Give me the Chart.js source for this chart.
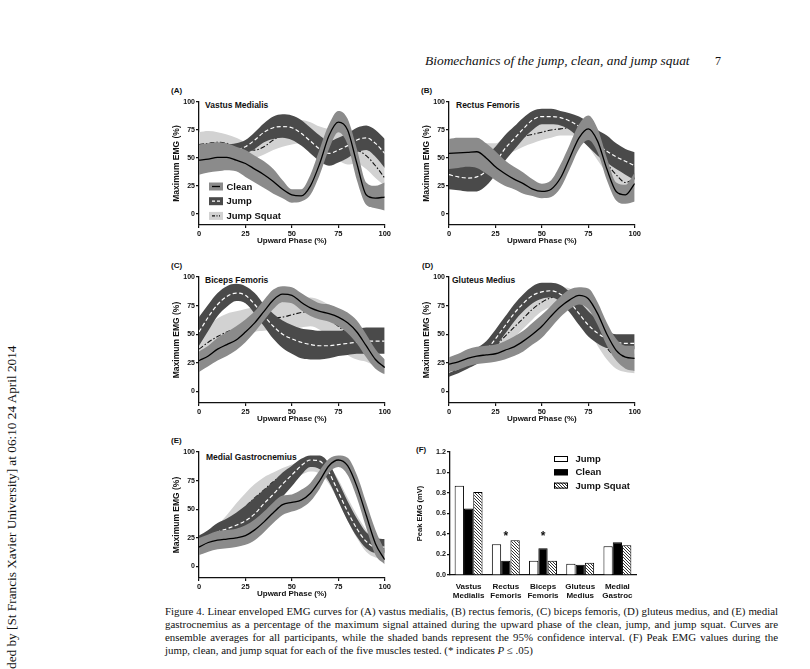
<!DOCTYPE html>
<html>
<head>
<meta charset="utf-8">
<script src="https://cdn.jsdelivr.net/npm/chart.js@4.4.1/dist/chart.umd.min.js"></script>
<style>
  body { margin:0; width:810px; height:669px; overflow:hidden; background:#fff; position:relative; font-family:'Liberation Sans', Arial, sans-serif; color:#111; }
  canvas { position:absolute; }
  .t { position:absolute; white-space:nowrap; font-weight:bold; line-height:1; color:#111; }
  .serif { position:absolute; white-space:nowrap; font-family:'Liberation Serif','Times New Roman',serif; color:#111; }
  .cap { position:absolute; left:165px; width:613px; height:13px; line-height:13px; font-family:'Liberation Serif','Times New Roman',serif; font-size:10.5px; white-space:nowrap; color:#111; }
</style>
</head>
<body>

<div class="serif" id="hdr" style="left:425px;top:54px;font-size:12px;line-height:14px;font-style:italic">Biomechanics of the jump, clean, and jump squat</div>
<div class="serif" style="left:715px;top:54px;font-size:12px;line-height:14px">7</div>

<div class="serif" id="side" style="left:0;top:0;font-size:12px;line-height:14px;transform-origin:0 0">ded by [St Francis Xavier University] at 06:10 24 April 2014</div>

<div class="t" style="left:171px;top:87px;font-size:8px">(A)</div>
<div class="t" style="left:421px;top:87px;font-size:8px">(B)</div>
<div class="t" style="left:171px;top:262px;font-size:8px">(C)</div>
<div class="t" style="left:422px;top:262px;font-size:8px">(D)</div>
<div class="t" style="left:171px;top:437px;font-size:8px">(E)</div>
<div class="t" style="left:416px;top:446px;font-size:8px">(F)</div>

<div class="t" style="left:205px;top:101px;font-size:8.5px">Vastus Medialis</div>
<div class="t" style="left:456px;top:101px;font-size:8.5px">Rectus Femoris</div>
<div class="t" style="left:205px;top:276px;font-size:8.5px">Biceps Femoris</div>
<div class="t" style="left:452px;top:276px;font-size:8.5px">Gluteus Medius</div>
<div class="t" style="left:206px;top:453px;font-size:8.5px">Medial Gastrocnemius</div>

<canvas id="cA"></canvas>
<canvas id="cB"></canvas>
<canvas id="cC"></canvas>
<canvas id="cD"></canvas>
<canvas id="cE"></canvas>
<canvas id="cF"></canvas>

<div class="cap" style="top:604.5px"><span>Figure 4. Linear enveloped EMG curves for (A) vastus medialis, (B) rectus femoris, (C) biceps femoris, (D) gluteus medius, and (E) medial</span></div>
<div class="cap" style="top:617.8px"><span>gastrocnemius as a percentage of the maximum signal attained during the upward phase of the clean, jump, and jump squat. Curves are</span></div>
<div class="cap" style="top:631.2px"><span>ensemble averages for all participants, while the shaded bands represent the 95% confidence interval. (F) Peak EMG values during the</span></div>
<div class="cap" style="top:644.4px"><span>jump, clean, and jump squat for each of the five muscles tested. (* indicates <i>P</i> ≤ .05)</span></div>

<script>
// Upward phase (%) sample points
const phase = [0,5,10,15,20,25,30,35,40,45,50,55,60,65,70,75,80,85,90,95,100];
const yTicks = [0,25,50,75,100];

// (A) vastus medialis
const vmClean   = [48,49,50.5,50.5,48,45,40,35,29,22,17,16,25,45,70,82,75,45,17,14,15];
const vmCleanHi = [62,63,64,63,60,57,52,47,40,30,22,22,35,58,80,92,85,58,28,25,28];
const vmCleanLo = [35,37,38,39,38,33,28,23,18,14,10,11,17,35,58,73,62,30,8,5,3];
const vmJump    = [55,55,55,56,57.5,60,66,73,77,78,77,72,65,58,54,57,61,66,68,63,54];
const vmJumpHi  = [60,60,60,62,63,66,73,81,87,89,88,84,77,70,65,68,72,77,79,75,67];
const vmJumpLo  = [48,48,48,50,52,54,58,64,67,68,66,61,54,47,43,46,50,55,57,51,41];
const vmJS      = [62,63,64,63,60,58,57,60,66,70,72,73,71,66,60,62,58,57,52,43,32];
const vmJSHi    = [73,74,73,71,68,64,62,66,74,80,83,84,82,78,76,76,70,68,63,55,45];
const vmJSLo    = [50,52,53,52,50,49,50,53,57,60,62,63,60,52,44,47,44,45,40,32,25];

// (B) rectus femoris
const rfClean   = [54,54.5,55,55.5,50,42,36,31,27,22,20,22,32,50,68,76,65,40,20,17,27];
const rfCleanHi = [67,68,68,68,63,56,48,42,37,31,27,30,44,62,80,88,76,50,28,26,37];
const rfCleanLo = [40,41,42,41,36,30,25,22,18,16,14,15,23,40,58,66,55,30,12,9,11];
const rfJump    = [35,33,32,33,38,46,58,67,76,84,87,87,86,83,78,70,62,56,51,47,43];
const rfJumpHi  = [47,45,44,45,52,60,70,78,86,92,94,94,92,90,87,82,75,70,63,58,55];
const rfJumpLo  = [22,21,20,20,25,35,47,57,67,75,80,80,79,75,68,60,52,46,40,35,30];
const rfJS      = [50,51,52,53,52,53,58,64,69,71,73,75,76,77,75,68,58,45,35,28,32];
const rfJSHi    = [60,62,63,63,63,63,68,73,78,80,82,84,85,86,85,80,70,58,46,38,42];
const rfJSLo    = [42,43,44,45,46,47,52,56,60,63,66,68,70,70,68,60,48,36,25,20,22];

// (C) biceps femoris
const bfClean   = [27,31,37,41,45,52,60,70,80,85,84,78,73,70,68,65,60,52,40,28,21];
const bfCleanHi = [35,40,47,52,57,63,70,80,89,92,91,86,81,77,76,73,69,62,50,37,28];
const bfCleanLo = [17,22,27,31,36,43,52,62,72,78,77,71,66,63,61,57,51,42,30,20,15];
const bfJump    = [52,65,76,83,86,84,76,66,57,50,46,43,41,40,40,41,42,43,44,44,44];
const bfJumpHi  = [65,76,86,92,94,92,86,76,68,62,58,55,54,53,53,53,54,55,56,56,56];
const bfJumpLo  = [40,53,66,74,79,77,68,57,46,38,33,29,28,28,29,31,32,33,33,33,33];
const bfJS      = [37,43,48,52,55,58,61,63,64,65,67,69,70,68,63,57,50,42,35,27,21];
const bfJSHi    = [50,58,64,68,70,72,74,76,77,78,80,81,82,80,76,72,65,56,45,35,28];
const bfJSLo    = [28,33,38,42,45,48,52,53,54,55,55,56,57,54,48,40,32,28,26,22,16];

// (D) gluteus medius
const gmClean   = [24,26,29,31,32,33,36,39,44,50,57,66,74,80,84,81,68,50,36,30,29];
const gmCleanHi = [30,33,37,39,40,41,44,48,53,60,67,75,83,89,91,90,78,60,46,40,40];
const gmCleanLo = [17,19,22,24,25,26,28,31,35,41,47,56,65,72,76,72,58,40,27,20,18];
const gmJump    = [17,20,24,30,36,46,57,68,77,84,87,88,85,78,68,58,51,46,43,42,42];
const gmJumpHi  = [22,26,32,38,44,54,65,76,85,92,95,95,93,87,79,70,62,53,50,50,50];
const gmJumpLo  = [13,16,20,24,30,39,50,61,70,77,81,82,78,69,58,48,42,38,37,37,37];
const gmJS      = [20,23,27,30,34,40,48,56,64,72,78,82,84,82,75,64,50,38,30,26,25];
const gmJSHi    = [28,30,34,37,42,49,57,66,74,82,87,90,91,90,85,76,62,50,40,35,33];
const gmJSLo    = [14,17,21,24,28,33,40,47,55,63,70,74,76,74,66,55,40,28,20,17,16];

// (E) medial gastrocnemius
const mgClean   = [17,21,23,24,25,27,32,39,47,54,56,58,64,75,88,93,88,70,45,20,6];
const mgCleanHi = [25,28,31,32,33,36,41,48,56,62,63,67,73,84,94,97,95,80,56,32,14];
const mgCleanLo = [10,13,15,16,17,19,23,30,38,45,48,51,57,68,82,87,80,60,34,10,2];
const mgJump    = [22,26,30,33,36,40,46,55,63,72,80,88,93,92,82,65,48,33,22,17,17];
const mgJumpHi  = [27,32,38,42,47,53,60,67,74,82,88,94,97,97,90,74,57,42,30,25,24];
const mgJumpLo  = [17,20,23,25,27,30,35,43,52,61,70,80,87,85,74,57,40,26,16,12,12];
const mgJS      = [18,22,27,33,42,52,60,67,74,80,84,88,90,88,80,67,50,35,22,14,13];
const mgJSHi    = [24,29,36,45,55,64,72,78,82,86,89,92,94,94,88,76,60,45,32,22,20];
const mgJSLo    = [10,14,18,24,32,42,51,59,66,72,76,80,83,81,72,57,40,25,13,8,7];

// (F) peak EMG (mV)
const muscles    = [['Vastus','Medialis'],['Rectus','Femoris'],['Biceps','Femoris'],['Gluteus','Medius'],['Medial','Gastroc']];
const peakJump   = [0.87,0.30,0.14,0.11,0.28];
const peakClean  = [0.65,0.14,0.26,0.10,0.32];
const peakJS     = [0.81,0.34,0.14,0.12,0.29];
const starred    = [1,2];
const starLevel  = 0.41;

Chart.defaults.font.family = "'Liberation Sans', Arial, sans-serif";
Chart.defaults.color = '#111';

const INK = '#111';
const GRAY = { clean:'#8b8b8b', jump:'#4a4a4a', js:'#d2d2d2' };
const pts = arr => arr.map((v, i) => ({ x: phase[i], y: v }));

// legend boxes drawn inside the plot
const swatchLegend = {
  id: 'swatchLegend',
  afterDraw(chart, args, o) {
    if (!o.items) return;
    const { ctx, chartArea: a } = chart;
    ctx.save();
    o.items.forEach((it, i) => {
      const x = a.left + o.x, y = a.top + o.y + i * o.gap;
      ctx.fillStyle = it.fill;
      ctx.fillRect(x, y, o.w, o.h);
      if (it.border) {
        ctx.strokeStyle = '#000'; ctx.lineWidth = 1;
        ctx.strokeRect(x + 0.5, y + 0.5, o.w - 1, o.h - 1);
      }
      if (it.line) {
        ctx.strokeStyle = it.line; ctx.lineWidth = 1.3;
        ctx.setLineDash(it.dash || []);
        ctx.beginPath(); ctx.moveTo(x + 3, y + o.h / 2); ctx.lineTo(x + o.w - 3, y + o.h / 2); ctx.stroke();
        ctx.setLineDash([]);
      }
      ctx.fillStyle = INK; ctx.font = o.font; ctx.textBaseline = 'middle';
      ctx.fillText(it.text, x + o.w + o.textGap, y + o.h / 2 + 0.5);
    });
    ctx.restore();
  }
};

// significance stars above the bar groups
const stars = {
  id: 'stars',
  afterDatasetsDraw(chart, args, o) {
    if (!o.cats) return;
    const { ctx, scales: { x, y } } = chart;
    ctx.save();
    ctx.fillStyle = INK; ctx.font = 'bold ' + o.size + 'px "Liberation Sans", Arial';
    ctx.textAlign = 'center'; ctx.textBaseline = 'alphabetic';
    o.cats.forEach(c => ctx.fillText('*', x.getPixelForValue(c), y.getPixelForValue(o.level) + 0.6 * o.size));
    ctx.restore();
  }
};

function place(cv, plot, padL, padT, padR, padB) {
  cv.width = plot.r - plot.l + padL + padR;
  cv.height = plot.b - plot.t + padT + padB;
  cv.style.left = (plot.l - padL) + 'px';
  cv.style.top = (plot.t - padT) + 'px';
}

function linePanel(id, plot, s, legendOn) {
  const cv = document.getElementById(id);
  place(cv, plot, 32, 6, 6, 24);
  const band = (data, color, fill) => ({
    data: pts(data), fill: fill ? '+1' : false, backgroundColor: color,
    borderWidth: 0, pointRadius: 0
  });
  // each series keeps its line with its band; first dataset ends up on top
  const datasets = [
    { data: pts(s.clean), borderColor: '#000', borderWidth: 1.3, pointRadius: 0, fill: false },
    band(s.cleanHi, GRAY.clean, true), band(s.cleanLo, GRAY.clean, false),
    { data: pts(s.jump), borderColor: '#fff', borderWidth: 1.2, borderDash: [4, 2.5], pointRadius: 0, fill: false },
    band(s.jumpHi, GRAY.jump, true), band(s.jumpLo, GRAY.jump, false),
    { data: pts(s.js), borderColor: '#111', borderWidth: 1.1, borderDash: [5, 2, 1.5, 2], pointRadius: 0, fill: false },
    band(s.jsHi, GRAY.js, true), band(s.jsLo, GRAY.js, false)
  ];
  const legend = legendOn ? {
    x: 10, y: 80.5, w: 14, h: 8, gap: 14.7, textGap: 3.5, font: 'bold 9.5px "Liberation Sans", Arial',
    items: [
      { text: 'Clean', fill: GRAY.clean, line: '#000' },
      { text: 'Jump', fill: GRAY.jump, line: '#fff', dash: [3, 2] },
      { text: 'Jump Squat', fill: GRAY.js, line: '#111', dash: [3, 1.5, 1, 1.5] }
    ]
  } : {};
  new Chart(cv, {
    type: 'line',
    data: { datasets },
    plugins: [swatchLegend],
    options: {
      responsive: false, animation: false, events: [],
      layout: { padding: { left: 5, top: 6, right: 6, bottom: 3 } },
      elements: { line: { cubicInterpolationMode: 'monotone' } },
      plugins: { legend: { display: false }, tooltip: { enabled: false }, swatchLegend: legend },
      scales: {
        x: {
          type: 'linear', min: 0, max: 100,
          ticks: { stepSize: 25, padding: 1, color: INK, font: { size: 7.5, weight: 'bold' } },
          grid: { drawOnChartArea: false, tickLength: 3, color: INK, lineWidth: 1.2 },
          border: { color: INK, width: 1.3 },
          title: { display: true, text: 'Upward Phase (%)', padding: 0, color: INK, font: { size: 8, weight: 'bold' } },
          afterFit: sc => { sc.height = 21; }
        },
        y: {
          min: -10, max: 100,
          afterBuildTicks: sc => { sc.ticks = yTicks.map(v => ({ value: v })); },
          ticks: { padding: 1, color: INK, font: { size: 7, weight: 'bold' } },
          grid: { drawOnChartArea: false, tickLength: 3, color: INK, lineWidth: 1.2 },
          border: { color: INK, width: 1.3 },
          title: { display: true, text: 'Maximum EMG (%)', padding: 0, color: INK, font: { size: 8.5, weight: 'bold' } },
          afterFit: sc => { sc.width = 27; }
        }
      }
    }
  });
}

linePanel('cA', { l: 199, r: 386, t: 102, b: 225 }, {
  clean: vmClean, cleanHi: vmCleanHi, cleanLo: vmCleanLo,
  jump: vmJump, jumpHi: vmJumpHi, jumpLo: vmJumpLo,
  js: vmJS, jsHi: vmJSHi, jsLo: vmJSLo }, true);
linePanel('cB', { l: 449, r: 636, t: 102, b: 225 }, {
  clean: rfClean, cleanHi: rfCleanHi, cleanLo: rfCleanLo,
  jump: rfJump, jumpHi: rfJumpHi, jumpLo: rfJumpLo,
  js: rfJS, jsHi: rfJSHi, jsLo: rfJSLo });
linePanel('cC', { l: 199, r: 386, t: 277, b: 403 }, {
  clean: bfClean, cleanHi: bfCleanHi, cleanLo: bfCleanLo,
  jump: bfJump, jumpHi: bfJumpHi, jumpLo: bfJumpLo,
  js: bfJS, jsHi: bfJSHi, jsLo: bfJSLo });
linePanel('cD', { l: 449, r: 636, t: 277, b: 403 }, {
  clean: gmClean, cleanHi: gmCleanHi, cleanLo: gmCleanLo,
  jump: gmJump, jumpHi: gmJumpHi, jumpLo: gmJumpLo,
  js: gmJS, jsHi: gmJSHi, jsLo: gmJSLo });
linePanel('cE', { l: 199, r: 386, t: 452, b: 578 }, {
  clean: mgClean, cleanHi: mgCleanHi, cleanLo: mgCleanLo,
  jump: mgJump, jumpHi: mgJumpHi, jumpLo: mgJumpLo,
  js: mgJS, jsHi: mgJSHi, jsLo: mgJSLo });

// hatched fill for jump squat bars
function hatch() {
  const c = document.createElement('canvas');
  c.width = 3; c.height = 3;
  const g = c.getContext('2d');
  g.fillStyle = '#fff'; g.fillRect(0, 0, 3, 3);
  g.fillStyle = '#333';
  g.fillRect(0, 0, 1, 1); g.fillRect(1, 1, 1, 1); g.fillRect(2, 2, 1, 1);
  return g.createPattern(c, 'repeat');
}

const cF = document.getElementById('cF');
place(cF, { l: 450, r: 636, t: 452, b: 575 }, 40, 6, 6, 28);
new Chart(cF, {
  type: 'bar',
  data: {
    labels: muscles,
    datasets: [
      { label: 'Jump', data: peakJump, backgroundColor: '#fff', borderColor: '#000', borderWidth: 1 },
      { label: 'Clean', data: peakClean, backgroundColor: '#000', borderColor: '#000', borderWidth: 1 },
      { label: 'Jump Squat', data: peakJS, backgroundColor: hatch(), borderColor: '#000', borderWidth: 1 }
    ]
  },
  plugins: [swatchLegend, stars],
  options: {
    responsive: false, animation: false, events: [],
    layout: { padding: { left: 5.5, top: 6, right: 6, bottom: 2 } },
    datasets: { bar: { categoryPercentage: 0.75, barPercentage: 1 } },
    plugins: {
      legend: { display: false }, tooltip: { enabled: false },
      stars: { cats: starred, level: starLevel, size: 12 },
      swatchLegend: {
        x: 104, y: 4, w: 14, h: 6, gap: 13.3, textGap: 7.5, font: 'bold 9.5px "Liberation Sans", Arial',
        items: [
          { text: 'Jump', fill: '#fff', border: true },
          { text: 'Clean', fill: '#000', border: true },
          { text: 'Jump Squat', fill: hatch(), border: true }
        ]
      }
    },
    scales: {
      x: {
        ticks: { padding: 8, maxRotation: 0, minRotation: 0, autoSkip: false, color: INK, font: { size: 8, weight: 'bold', lineHeight: 1.05 } },
        grid: { display: false, drawTicks: false },
        border: { color: INK, width: 1.3 },
        afterFit: sc => { sc.height = 26; }
      },
      y: {
        min: 0, max: 1.2,
        ticks: { stepSize: 0.2, padding: 1, color: INK, font: { size: 7.2, weight: 'bold' }, callback: v => v.toFixed(1) },
        grid: { drawOnChartArea: false, tickLength: 3, color: INK, lineWidth: 1.2 },
        border: { color: INK, width: 1.3 },
        title: { display: true, text: 'Peak EMG (mV)', padding: 0, color: INK, font: { size: 7.5, weight: 'bold' } },
        afterFit: sc => { sc.width = 34.5; }
      }
    }
  }
});

// fit the page text to the measured widths
function fitWidth(el, w) {
  const fs = parseFloat(getComputedStyle(el).fontSize);
  el.style.fontSize = (fs * w / el.getBoundingClientRect().width) + 'px';
}
fitWidth(document.getElementById('hdr'), 265);

const side = document.getElementById('side');
fitWidth(side, 324);
side.style.transform = 'translate(5px, 669px) rotate(-90deg)';

const caps = [...document.querySelectorAll('.cap')];
const widest = Math.max(...caps.slice(0, 3).map(c => c.firstChild.getBoundingClientRect().width));
const capSize = 10.5 * 609 / widest;
caps.forEach((c, i) => {
  c.style.fontSize = capSize + 'px';
  if (i < 3) { c.style.whiteSpace = 'normal'; c.style.textAlign = 'justify'; c.style.textAlignLast = 'justify'; }
});
</script>
</body>
</html>
